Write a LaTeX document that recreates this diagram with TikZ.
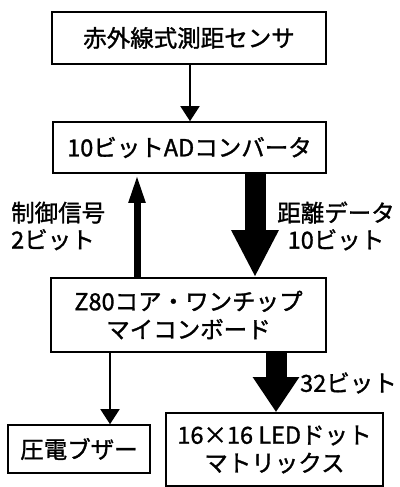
\documentclass[tikz,border=0pt]{standalone}
\usepackage{fontspec}
\setmainfont{Noto Sans CJK JP}
\newfontfamily\jpmed[FakeBold=1.3]{Noto Sans CJK JP}
\usetikzlibrary{arrows.meta}
\begin{document}
\begin{tikzpicture}[x=1pt,y=-1pt,
  box/.style={draw=black,line width=1.6pt,fill=white,inner sep=0pt,align=center,
    font=\jpmed\fontsize{23.5}{28}\selectfont},
  lbl/.style={inner sep=0pt,font=\jpmed\fontsize{23.5}{27}\selectfont},
  thin/.style={line width=1.6pt,-{Triangle[width=19pt,length=15pt]}},
  mid/.style={line width=7pt,-{Triangle[width=15pt,length=29pt]}},
  fat/.style={line width=21pt,-{Triangle[width=44pt,length=#1]}}]
\useasboundingbox (0,0) rectangle (399,487);
\node[box,minimum width=274pt,minimum height=52pt] (sens) at (189,38) {赤外線式測距センサ};
\node[box,minimum width=273pt,minimum height=51pt] (adc) at (189.5,147.5) {10ビットADコンバータ};
\node[box,minimum width=275pt,minimum height=74pt] (cpu) at (188.5,315) {Z80コア・ワンチップ\\マイコンボード};
\node[box,minimum width=142pt,minimum height=48pt] (buz) at (79,449) {圧電ブザー};
\node[box,minimum width=217pt,minimum height=73pt] (led) at (274.5,449.5) {16×16 LEDドット\\マトリックス};
\coordinate (xa) at (190,0);
\coordinate (xc) at (137,0);
\coordinate (xd) at (255,0);
\coordinate (xb) at (110,0);
\coordinate (xe) at (276,0);
\draw[thin] (sens.south -| xa) -- (adc.north -| xa);
\draw[mid] (cpu.north -| xc) -- (adc.south -| xc);
\draw[fat=47pt] (adc.south -| xd) -- (cpu.north -| xd);
\draw[thin] (cpu.south -| xb) -- (buz.north -| xb);
\draw[fat=35pt] (cpu.south -| xe) -- (led.north -| xe);
\node[lbl,align=left,anchor=west] (ctl) at (11,226) {制御信号\\2ビット};
\node[lbl,align=center] (dist) at (336,226) {距離データ\\10ビット};
\node[lbl,anchor=west] (b32) at (300,383) {32ビット};
\end{tikzpicture}
\end{document}
